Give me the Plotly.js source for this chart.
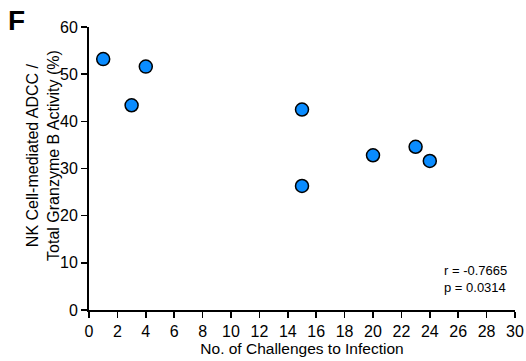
<!DOCTYPE html>
<html><head><meta charset="utf-8">
<script src="https://cdn.plot.ly/plotly-3.0.1.min.js"></script>
<style>html,body{margin:0;padding:0;background:#fff}#c{width:526px;height:361px}</style>
</head><body><div id="c"></div>
<script>
const challenges = [1, 3, 4, 15, 15, 20, 23, 24];
const adccPct = [53.2, 43.4, 51.6, 42.5, 26.3, 32.8, 34.6, 31.6];
const xTicks = [0,2,4,6,8,10,12,14,16,18,20,22,24,26,28,30];
const yTicks = [0,10,20,30,40,50,60];
const statsText = "r = -0.7665<br>p = 0.0314";
const yTitle = 'NK Cell-mediated ADCC /<br>Total Granzyme B Activity (%)';
const xTitle = 'No. of Challenges to Infection';
const font = "Liberation Sans, Arial, sans-serif";

Plotly.newPlot('c', [{
  x: challenges, y: adccPct, type: 'scatter', mode: 'markers',
  marker: {size: 13, color: '#0a8cff', line: {color: '#000', width: 1.5}},
  cliponaxis: false, hoverinfo: 'none'
}], {
  width: 526, height: 361,
  margin: {l: 89, r: 11, t: 27, b: 51},
  paper_bgcolor: '#fff', plot_bgcolor: '#fff',
  showlegend: false,
  font: {family: font, color: '#000'},
  xaxis: {range: [0, 30], tickvals: xTicks, ticktext: xTicks.map(String),
    showgrid: false, zeroline: false, showline: true, linecolor: '#000', linewidth: 2,
    ticks: 'outside', ticklen: 6, tickwidth: 1.5, tickcolor: '#000',
    tickfont: {size: 16, family: font}, fixedrange: true,
    title: {text: xTitle, font: {size: 15.5, family: font}, standoff: 0}},
  yaxis: {range: [0, 60], tickvals: yTicks, ticktext: yTicks.map(String),
    showgrid: false, zeroline: false, showline: true, linecolor: '#000', linewidth: 2,
    ticks: 'outside', ticklen: 6, tickwidth: 1.5, tickcolor: '#000',
    tickfont: {size: 16, family: font}, fixedrange: true},
  annotations: [
    {text: yTitle, xref: 'paper', yref: 'paper', x: -0.108, y: 0.548, xanchor: 'center', yanchor: 'middle',
     textangle: -90, showarrow: false, font: {size: 16, family: font}},
    {text: statsText, xref: 'paper', yref: 'paper', x: 0.985, y: 0.045, xanchor: 'right', yanchor: 'bottom',
     align: 'left', showarrow: false, font: {size: 13, family: font}},
    {text: '<b>F</b>', xref: 'paper', yref: 'paper', x: -0.195, y: 1.085, xanchor: 'left', yanchor: 'top',
     showarrow: false, font: {size: 28, family: font}}
  ]
}, {staticPlot: true});
</script></body></html>
